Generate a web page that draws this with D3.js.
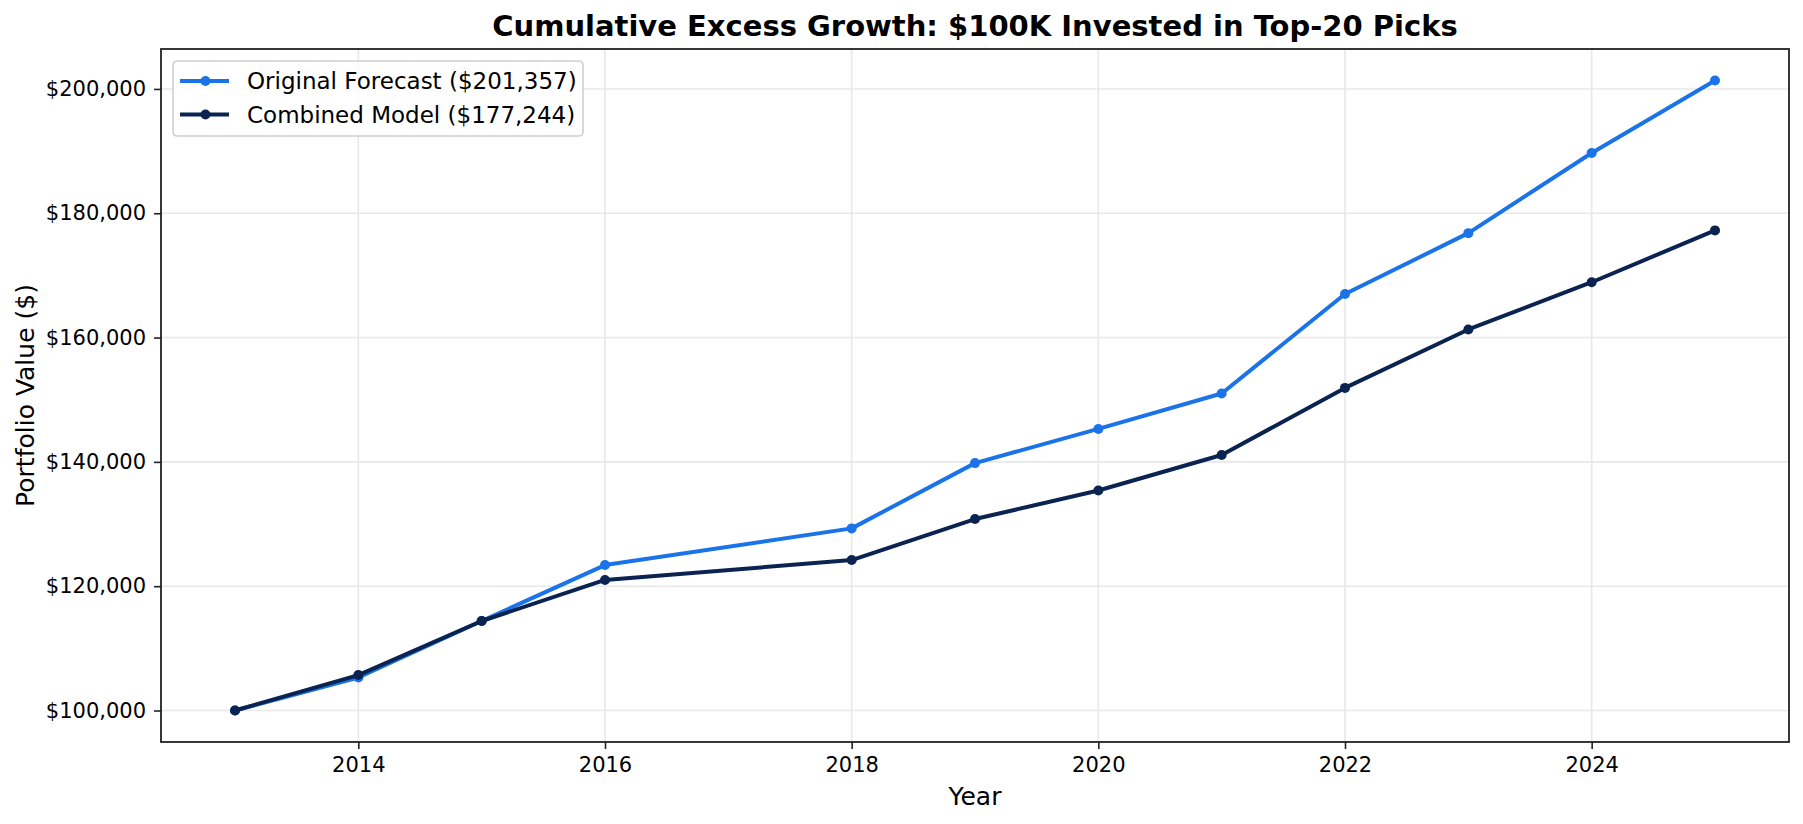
<!DOCTYPE html>
<html>
<head>
<meta charset="utf-8">
<script src="https://cdn.jsdelivr.net/npm/d3@7"></script>
<style>
  body { margin: 0; background: #fff; }
  svg text { font-family: "DejaVu Sans", sans-serif; fill: #000; }
</style>
</head>
<body>
<svg id="chart"></svg>
<script>
// data
const years = [2013, 2014, 2015, 2016, 2018, 2019, 2020, 2021, 2022, 2023, 2024, 2025];
const originalForecast = [100000, 105300, 114400, 123400, 129300, 139800, 145300, 151000, 167000, 176800, 189700, 201357];
const combinedModel = [100000, 105700, 114400, 121000, 124200, 130800, 135400, 141100, 151900, 161300, 168900, 177244];
const seriesNames = ['Original Forecast ($201,357)', 'Combined Model ($177,244)'];
const seriesColors = ['#1a73e8', '#0a2351'];
const xTicks = [2014, 2016, 2018, 2020, 2022, 2024];
const yTicks = [100000, 120000, 140000, 160000, 180000, 200000];

class LineChart {
    constructor(_config, _series) {
        this.config = {
            parentElement: _config.parentElement,
            containerWidth: _config.containerWidth || 1803,
            containerHeight: _config.containerHeight || 824,
            margin: {top: 49, right: 14, bottom: 82, left: 161}
        }
        this.series = _series;
        this.initVis();
    }

    initVis() {
        let vis = this;

        vis.width = vis.config.containerWidth - vis.config.margin.left - vis.config.margin.right;
        vis.height = vis.config.containerHeight - vis.config.margin.top - vis.config.margin.bottom;

        vis.svg = d3.select(vis.config.parentElement)
            .attr('width', vis.config.containerWidth)
            .attr('height', vis.config.containerHeight);

        vis.chart = vis.svg.append('g')
            .attr('transform', `translate(${vis.config.margin.left}, ${vis.config.margin.top})`);

        // matplotlib style 5% padding on both axes
        let xMin = d3.min(years), xMax = d3.max(years);
        let xPad = (xMax - xMin) * 0.05;
        let allVals = vis.series.flatMap(s => s.values);
        let yMin = d3.min(allVals), yMax = d3.max(allVals);
        let yPad = (yMax - yMin) * 0.05;

        vis.xScale = d3.scaleLinear()
            .domain([xMin - xPad, xMax + xPad])
            .range([0, vis.width]);

        vis.yScale = d3.scaleLinear()
            .domain([yMin - yPad, yMax + yPad])
            .range([vis.height, 0]);

        vis.updateVis();
    }

    updateVis() {
        let vis = this;

        // grid
        vis.chart.append('g')
            .selectAll('line.vgrid')
            .data(xTicks)
            .join('line')
                .attr('x1', d => vis.xScale(d))
                .attr('x2', d => vis.xScale(d))
                .attr('y1', 0)
                .attr('y2', vis.height)
                .attr('stroke', '#e8e8e8')
                .attr('stroke-width', 1.6);

        vis.chart.append('g')
            .selectAll('line.hgrid')
            .data(yTicks)
            .join('line')
                .attr('x1', 0)
                .attr('x2', vis.width)
                .attr('y1', d => vis.yScale(d))
                .attr('y2', d => vis.yScale(d))
                .attr('stroke', '#e8e8e8')
                .attr('stroke-width', 1.6);

        // axes
        vis.xAxis = d3.axisBottom(vis.xScale)
            .tickValues(xTicks)
            .tickFormat(d3.format('d'))
            .tickSize(7)
            .tickPadding(8);

        vis.yAxis = d3.axisLeft(vis.yScale)
            .tickValues(yTicks)
            .tickFormat(d => '$' + d3.format(',')(d))
            .tickSize(7)
            .tickPadding(8);

        vis.xAxisGroup = vis.chart.append('g')
            .attr('class', 'axis x-axis')
            .attr('transform', 'translate(0,' + vis.height + ')')
            .call(vis.xAxis);

        vis.yAxisGroup = vis.chart.append('g')
            .attr('class', 'axis y-axis')
            .call(vis.yAxis);

        vis.chart.selectAll('.axis .domain').remove();
        vis.chart.selectAll('.axis text')
            .attr('font-size', 21)
            .attr('font-family', 'DejaVu Sans');
        vis.chart.selectAll('.axis line')
            .attr('stroke', '#222')
            .attr('stroke-width', 1.6);

        // frame
        vis.chart.append('rect')
            .attr('width', vis.width)
            .attr('height', vis.height)
            .attr('fill', 'none')
            .attr('stroke', '#222')
            .attr('stroke-width', 1.8);

        // lines + markers
        let line = d3.line()
            .x(d => vis.xScale(d.year))
            .y(d => vis.yScale(d.value));

        vis.series.forEach(s => {
            let pts = years.map((y, i) => ({year: y, value: s.values[i]}));
            let g = vis.chart.append('g');
            g.append('path')
                .datum(pts)
                .attr('fill', 'none')
                .attr('stroke', s.color)
                .attr('stroke-width', 4)
                .attr('stroke-linejoin', 'round')
                .attr('d', line);
            g.selectAll('circle')
                .data(pts)
                .join('circle')
                    .attr('cx', d => vis.xScale(d.year))
                    .attr('cy', d => vis.yScale(d.value))
                    .attr('r', 5)
                    .attr('fill', s.color);
        });

        // legend
        let legend = vis.svg.append('g')
            .attr('transform', 'translate(173, 61)');
        legend.append('rect')
            .attr('width', 410)
            .attr('height', 75)
            .attr('rx', 4)
            .attr('fill', '#fff')
            .attr('fill-opacity', 0.8)
            .attr('stroke', '#d0d0d0')
            .attr('stroke-width', 1.6);
        vis.series.forEach((s, i) => {
            let row = legend.append('g')
                .attr('transform', `translate(0, ${20 + i * 33.5})`);
            row.append('line')
                .attr('x1', 7).attr('x2', 56)
                .attr('stroke', s.color)
                .attr('stroke-width', 4);
            row.append('circle')
                .attr('cx', 32.5)
                .attr('r', 5)
                .attr('fill', s.color);
            row.append('text')
                .attr('x', 74)
                .attr('dy', '0.35em')
                .attr('font-size', 23)
                .text(s.name);
        });

        // title and axis labels
        vis.svg.append('text')
            .attr('x', vis.config.margin.left + vis.width / 2)
            .attr('y', 36)
            .attr('text-anchor', 'middle')
            .attr('font-size', 29)
            .attr('font-weight', 'bold')
            .text('Cumulative Excess Growth: $100K Invested in Top-20 Picks');

        vis.svg.append('text')
            .attr('x', vis.config.margin.left + vis.width / 2)
            .attr('y', 805)
            .attr('text-anchor', 'middle')
            .attr('font-size', 25)
            .text('Year');

        vis.svg.append('text')
            .attr('transform', `translate(34, ${vis.config.margin.top + vis.height / 2}) rotate(-90)`)
            .attr('text-anchor', 'middle')
            .attr('font-size', 25)
            .text('Portfolio Value ($)');
    }
}

let chart = new LineChart({parentElement: '#chart'}, [
    {name: seriesNames[0], color: seriesColors[0], values: originalForecast},
    {name: seriesNames[1], color: seriesColors[1], values: combinedModel}
]);
</script>
</body>
</html>
